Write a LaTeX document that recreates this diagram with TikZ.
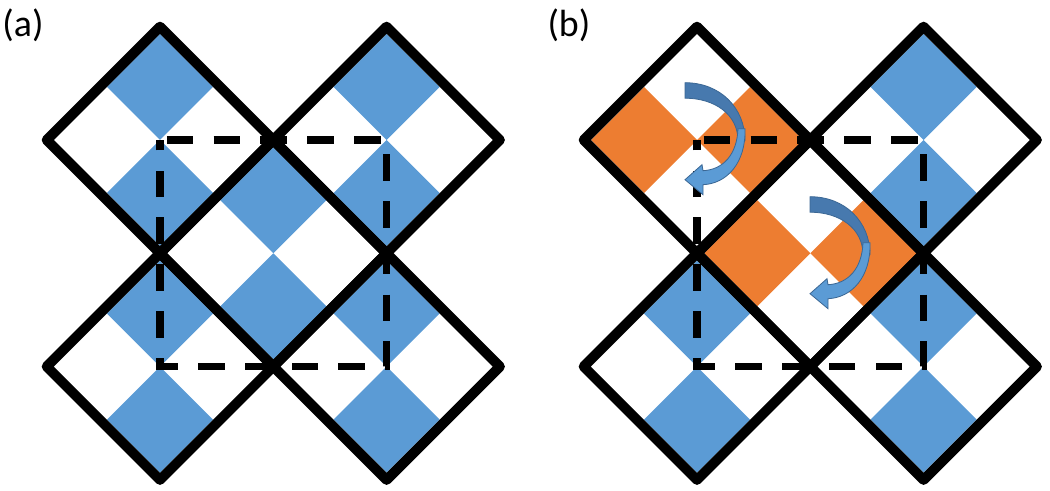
\documentclass[tikz,border=0pt]{standalone}
\usepackage{fontspec}
\setmainfont{Carlito}
\usetikzlibrary{calc}
\definecolor{tblue}{HTML}{5B9BD5}
\definecolor{torange}{HTML}{ED7D31}
\definecolor{adark}{HTML}{4779AE}
\definecolor{alight}{HTML}{5B9BD5}
\definecolor{aedge}{HTML}{3B6794}
\def\bigR{113.3}
\def\subR{53}
\newcommand\mkdiamond[3]{%
  \coordinate (#1) at (#2,#3);
  \coordinate (#1-n) at ($(#1)+(0,-\subR)$);
  \coordinate (#1-s) at ($(#1)+(0,\subR)$);
  \coordinate (#1-w) at ($(#1)+(-\subR,0)$);
  \coordinate (#1-e) at ($(#1)+(\subR,0)$);}
\newcommand\tilefill[2]{\fill[#1] ($(#2)+(0,-\subR)$) -- ($(#2)+(\subR,0)$) -- ($(#2)+(0,\subR)$) -- ($(#2)+(-\subR,0)$) -- cycle;}
\newcommand\bigdiamond[1]{\draw[bigline] ($(#1)+(0,-\bigR)$) -- ($(#1)+(\bigR,0)$) -- ($(#1)+(0,\bigR)$) -- ($(#1)+(-\bigR,0)$) -- cycle;}
\tikzset{
  bigline/.style={line width=10bp, line join=round, black},
  dashline/.style={line width=7.5bp, black, dash pattern=on 26.5bp off 20.3bp, dash phase=40bp},
  label/.style={anchor=base west, inner sep=0pt, font=\fontsize{38}{42}\selectfont},
  turnarrow/.pic={
    \filldraw[fill=adark, draw=aedge, line width=0.8bp]
      (0,0) .. controls (35,0) and (60,25) .. (60,58) -- (53,58)
      .. controls (53,32) and (30,15.5) .. (0,15.5) -- cycle;
    \filldraw[fill=alight, draw=aedge, line width=0.8bp]
      (60,46) .. controls (61,80) and (42,101) .. (18,102) -- (18,112) -- (0,97)
      -- (17,82) -- (18,88) .. controls (38,87) and (52,72) .. (53,46) -- cycle;
  }
}
\begin{document}
\begin{tikzpicture}[x=1bp, y=-1bp]
\useasboundingbox (0,0) rectangle (1050,491);
% panel (a)
\mkdiamond{aTL}{160}{140}
\mkdiamond{aTR}{386.6}{140}
\mkdiamond{aBL}{160}{366.6}
\mkdiamond{aBR}{386.6}{366.6}
\mkdiamond{aC}{273.3}{253.3}
% panel (b)
\mkdiamond{bTL}{697}{140}
\mkdiamond{bTR}{923.6}{140}
\mkdiamond{bBL}{697}{366.6}
\mkdiamond{bBR}{923.6}{366.6}
\mkdiamond{bC}{810.3}{253.3}
% tiles
\foreach \d in {aTL,aTR,aBL,aBR,aC,bTR,bBL,bBR}{
  \tilefill{tblue}{\d-n}
  \tilefill{tblue}{\d-s}
}
\foreach \d in {bTL,bC}{
  \tilefill{torange}{\d-w}
  \tilefill{torange}{\d-e}
}
% outlines
\foreach \d in {aTL,aTR,aBL,aBR,aC,bTL,bTR,bBL,bBR,bC}{
  \bigdiamond{\d}
}
% dashed squares
\draw[dashline] (aTL) -- (aTR) -- (aBR) -- (aBL) -- cycle;
\draw[dashline] (bTL) -- (bTR) -- (bBR) -- (bBL) -- cycle;
% rotation arrows
\coordinate (arrA) at (685,82.7);
\coordinate (arrB) at (810,196.7);
\pic at (arrA) {turnarrow};
\pic at (arrB) {turnarrow};
% labels
\node[label] (la) at (2.3,37) {(a)};
\node[label] (lb) at (547.3,37) {(b)};
\end{tikzpicture}
\end{document}
